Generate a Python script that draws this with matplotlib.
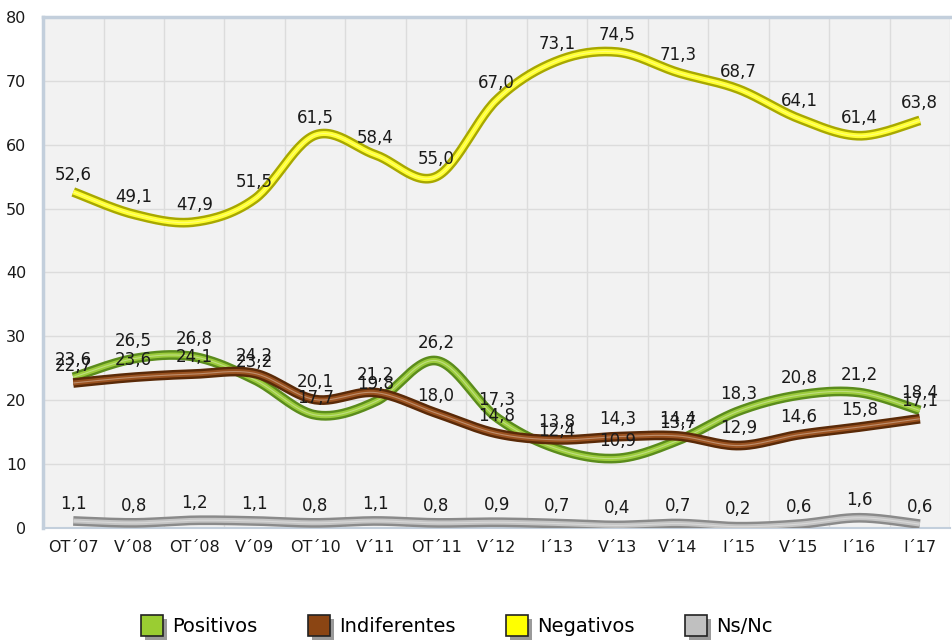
import numpy as np
import matplotlib
matplotlib.use('Agg')
import matplotlib.pyplot as plt
from matplotlib.patches import Rectangle
from matplotlib.legend_handler import HandlerPatch

categories = ['OT´07', 'V´08', 'OT´08', 'V´09', 'OT´10', 'V´11', 'OT´11', 'V´12',
              'I´13', 'V´13', 'V´14', 'I´15', 'V´15', 'I´16', 'I´17']
positivos = [23.6, 26.5, 26.8, 23.2, 17.7, 19.8, 26.2, 17.3, 12.4, 10.9, 13.7, 18.3, 20.8, 21.2, 18.4]
indiferentes = [22.7, 23.6, 24.1, 24.2, 20.1, 21.2, 18.0, 14.8, 13.8, 14.3, 14.4, 12.9, 14.6, 15.8, 17.1]
negativos = [52.6, 49.1, 47.9, 51.5, 61.5, 58.4, 55.0, 67.0, 73.1, 74.5, 71.3, 68.7, 64.1, 61.4, 63.8]
nsnc = [1.1, 0.8, 1.2, 1.1, 0.8, 1.1, 0.8, 0.9, 0.7, 0.4, 0.7, 0.2, 0.6, 1.6, 0.6]

series = [
    ('Positivos', positivos, '#5b8c1c', '#9ccc3c', '#9acd32'),
    ('Indiferentes', indiferentes, '#5a2a08', '#9a5220', '#8b4513'),
    ('Negativos', negativos, '#a8a800', '#ffff30', '#ffff00'),
    ('Ns/Nc', nsnc, '#8a8a8a', '#c4c4c4', '#c0c0c0'),
]


def smooth(y, n=30):
    # bezier through the points, like the smoothed lines of a spreadsheet
    x = np.arange(len(y), dtype=float)
    y = np.asarray(y, dtype=float)
    xs, ys = [], []
    for i in range(len(y) - 1):
        x0, y0 = x[max(i - 1, 0)], y[max(i - 1, 0)]
        x3, y3 = x[min(i + 2, len(y) - 1)], y[min(i + 2, len(y) - 1)]
        p0 = np.array([x[i], y[i]])
        p3 = np.array([x[i + 1], y[i + 1]])
        p1 = p0 + (p3 - np.array([x0, y0])) / 6
        p2 = p3 - (np.array([x3, y3]) - p0) / 6
        t = np.linspace(0, 1, n)[:, None]
        pts = (1 - t) ** 3 * p0 + 3 * (1 - t) ** 2 * t * p1 + 3 * (1 - t) * t ** 2 * p2 + t ** 3 * p3
        xs.extend(pts[:, 0])
        ys.extend(pts[:, 1])
    return np.array(xs), np.array(ys)


class ShadowSquare(HandlerPatch):
    def create_artists(self, legend, orig_handle, xdescent, ydescent, width, height, fontsize, trans):
        s = height * 1.25
        shadow = Rectangle((-xdescent + 3, -ydescent - 3 - (s - height) / 2), s, s,
                           facecolor='#9a9a9a', edgecolor='none', transform=trans)
        box = Rectangle((-xdescent, -ydescent - (s - height) / 2 + 0), s, s,
                        facecolor=orig_handle.get_facecolor(), edgecolor='#222222',
                        linewidth=1.2, transform=trans)
        return [shadow, box]


fig = plt.figure(figsize=(9.52, 6.42), dpi=100)
ax = fig.add_axes([0.0452, 0.1776, 0.9528, 0.796])
ax.set_facecolor('#f2f2f2')

x = np.arange(len(categories))
for name, vals, dark, light, legc in series:
    sx, sy = smooth(vals)
    ax.plot(sx, sy, color=dark, linewidth=7, solid_capstyle='butt', zorder=3)
    ax.plot(sx, sy, color=light, linewidth=3.5, solid_capstyle='butt', zorder=3)
    ax.plot(sx, sy, color='white', linewidth=0.8, alpha=0.35, solid_capstyle='butt', zorder=3)
    for xi, v in zip(x, vals):
        ax.annotate(f'{v:.1f}'.replace('.', ','), (xi, v), xytext=(0, 6),
                    textcoords='offset points', ha='center', va='bottom',
                    fontsize=12, color='#1a1a1a', zorder=4)

ax.set_xlim(-0.5, len(categories) - 0.5)
ax.set_ylim(0, 80)
ax.set_yticks(range(0, 81, 10))
ax.set_xticks(x)
ax.set_xticklabels(categories)
ax.set_xticks(np.arange(-0.5, len(categories), 1), minor=True)
ax.grid(False)
ax.grid(True, which='minor', axis='x', color='#dcdcdc', linewidth=1)
ax.grid(True, which='major', axis='y', color='#dcdcdc', linewidth=1)
ax.tick_params(which='both', length=0, labelsize=11.5, colors='#1a1a1a')
ax.tick_params(axis='y', pad=12)
ax.tick_params(axis='x', pad=9)
for side in ['left', 'top']:
    ax.spines[side].set_color('#c3cfdc')
    ax.spines[side].set_linewidth(2.5)
ax.spines['right'].set_visible(False)
ax.spines['bottom'].set_color('#c3cfdc')
ax.spines['bottom'].set_linewidth(1.5)
ax.set_axisbelow(True)

handles = [Rectangle((0, 0), 1, 1, facecolor=s[4]) for s in series]
leg = fig.legend(handles, [s[0] for s in series], loc='lower center', ncol=4,
                 bbox_to_anchor=(0.48, -0.018), frameon=False, fontsize=14,
                 handler_map={Rectangle: ShadowSquare()}, handlelength=1.3,
                 handleheight=1.0, handletextpad=0.3, columnspacing=2.6)

fig.savefig('out.png', dpi=100)
